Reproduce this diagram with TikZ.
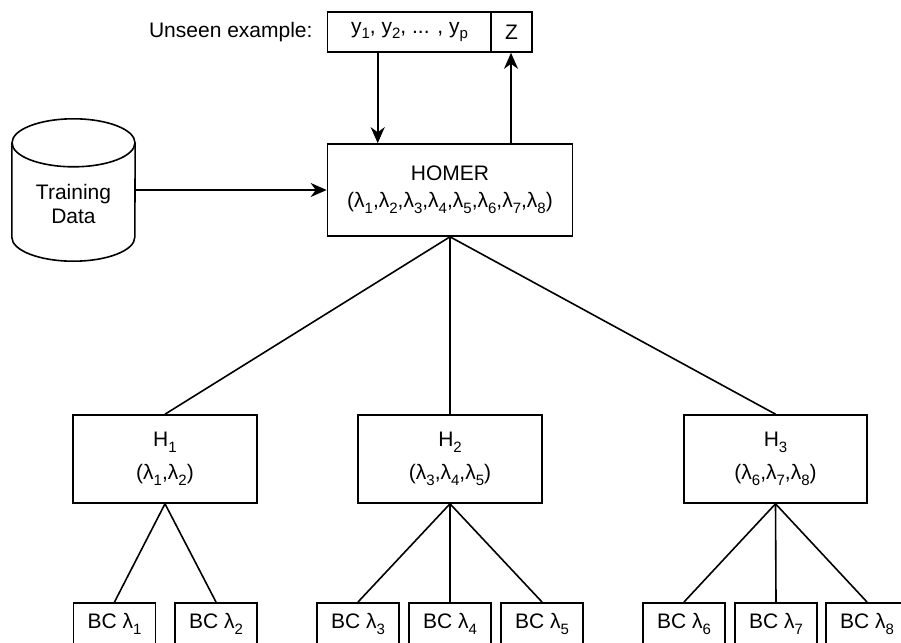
\documentclass[tikz,border=0pt]{standalone}
\usepackage{fontspec}
\setmainfont{Liberation Sans}
\usetikzlibrary{arrows.meta,calc,positioning}
\newcommand\lsub[1]{\raisebox{-0.28em}{\fontsize{15}{15}\selectfont #1}}
\begin{document}
\begin{tikzpicture}[x=1pt,y=-1pt,
  every node/.style={font=\fontsize{21}{24}\selectfont},
  box/.style={draw,line width=1.6pt,fill=white,inner sep=0pt,align=center},
  hbox/.style={box,minimum width=184,minimum height=88},
  bcbox/.style={box,minimum width=82,minimum height=60,anchor=north},
  ln/.style={line width=1.6pt},
  arr/.style={line width=1.6pt,-{Stealth[length=16pt,width=14pt,inset=5pt]}}]
\useasboundingbox (0,0) rectangle (901,642);
\clip (0,0) rectangle (901,642);

% top input / output
\node[box,minimum width=164,minimum height=40] (ybox) at (409.5,32) {y\lsub{1}, y\lsub{2}, ... , y\lsub{p}};
\node[box,minimum width=41,minimum height=40] (zbox) at (511.5,32) {Z};
\node[inner sep=0pt,anchor=east] (unseen) at ($(ybox.west)+(-14,0)$) {Unseen example:};

% HOMER
\node[box,minimum width=245,minimum height=92] (homer) at (450,190)
  {HOMER\\[3pt](λ\lsub{1},λ\lsub{2},λ\lsub{3},λ\lsub{4},λ\lsub{5},λ\lsub{6},λ\lsub{7},λ\lsub{8})};

% Training data cylinder
\node[minimum width=123,minimum height=142,inner sep=0pt] (db) at (73.5,190) {};
\draw[ln,fill=white] (db.north west) ++(0,24) -- ($(db.south west)+(0,-24)$)
  arc[start angle=180,end angle=0,x radius=61.5,y radius=24] -- ($(db.north east)+(0,24)$);
\draw[ln] ($(db.north)+(0,24)$) ellipse[x radius=61.5,y radius=24];
\node[align=center] (dbtext) at (73.5,204) {Training\\Data};

% arrows
\coordinate (din) at ($(ybox.south west)+(51,0)$);
\coordinate (zout) at ($(zbox.south)+(-0.5,0)$);
\draw[arr] (din) -- (din |- homer.north);
\draw[arr] (zout |- homer.north) -- (zout);
\draw[arr] (db.east) -- (homer.west);

% H nodes
\node[hbox] (h1) at (165,459) {H\lsub{1}\\[9pt](λ\lsub{1},λ\lsub{2})};
\node[hbox] (h2) at (450,459) {H\lsub{2}\\[9pt](λ\lsub{3},λ\lsub{4},λ\lsub{5})};
\node[hbox,minimum width=183] (h3) at (775.5,459) {H\lsub{3}\\[9pt](λ\lsub{6},λ\lsub{7},λ\lsub{8})};

\draw[ln] (homer.south) -- (h1.north);
\draw[ln] (homer.south) -- (h2.north);
\draw[ln] (homer.south) -- (h3.north);

% BC nodes
\node[bcbox] (bc1) at (114.5,602) {\raisebox{24pt}{BC λ\lsub{1}}};
\node[bcbox] (bc2) at (216,602) {\raisebox{24pt}{BC λ\lsub{2}}};
\node[bcbox] (bc3) at (358,602) {\raisebox{24pt}{BC λ\lsub{3}}};
\node[bcbox] (bc4) at (450,602) {\raisebox{24pt}{BC λ\lsub{4}}};
\node[bcbox] (bc5) at (542,602) {\raisebox{24pt}{BC λ\lsub{5}}};
\node[bcbox] (bc6) at (684,602) {\raisebox{24pt}{BC λ\lsub{6}}};
\node[bcbox] (bc7) at (776,602) {\raisebox{24pt}{BC λ\lsub{7}}};
\node[bcbox] (bc8) at (867,602) {\raisebox{24pt}{BC λ\lsub{8}}};

\draw[ln] (h1.south) -- (bc1.north);
\draw[ln] (h1.south) -- (bc2.north);
\draw[ln] (h2.south) -- (bc3.north);
\draw[ln] (h2.south) -- (bc4.north);
\draw[ln] (h2.south) -- (bc5.north);
\draw[ln] (h3.south) -- (bc6.north);
\draw[ln] (h3.south) -- (bc7.north);
\draw[ln] (h3.south) -- (bc8.north);
\end{tikzpicture}
\end{document}
